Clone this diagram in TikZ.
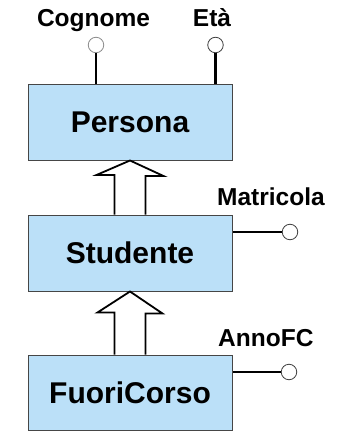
\documentclass[tikz,border=0pt]{standalone}
\usepackage{fontspec}
\setmainfont{Liberation Sans}
\usetikzlibrary{calc}
\definecolor{entfill}{RGB}{187,224,248}
\definecolor{entline}{RGB}{70,70,70}
\tikzset{
  entity/.style={draw=entline, line width=1pt, fill=entfill, minimum width=204pt,
    inner sep=0pt, font=\fontsize{30}{36}\selectfont\bfseries},
  attrlabel/.style={inner sep=0pt, font=\fontsize{24.5}{28}\selectfont\bfseries},
  attrcirc/.style={circle, draw=black!75, line width=0.8pt, fill=white, minimum size=15.5pt, inner sep=0pt},
  attrline/.style={line width=2.6pt, black},
  isa/.style={draw=black, line width=1.8pt, fill=white, line join=miter}
}
\begin{document}
\begin{tikzpicture}[x=1pt,y=1pt]
\useasboundingbox (0,0) rectangle (346,-431);
% entities
\node[entity, minimum height=76pt] (persona) at (130,-122) {\raisebox{-2pt}{Persona}};
\node[entity, minimum height=76pt] (studente) at (130,-253) {\raisebox{-1.5pt}{Studente}};
\node[entity, minimum height=75pt] (fuori) at (130,-392.5) {\raisebox{-2pt}{FuoriCorso}};
% attributes of Persona
\node[attrcirc, draw=black!45] (cogc) at (96,-45) {};
\node[attrcirc] (etac) at (215.5,-45) {};
\draw[attrline] (cogc.south) -- (cogc.south |- persona.north);
\draw[attrline] (etac.south) -- (etac.south |- persona.north);
\node[attrlabel, anchor=base] (cogl) at (93.5,-27) {Cognome};
\node[attrlabel, anchor=base] (etal) at (212,-27) {Età};
% attribute of Studente
\node[attrcirc] (matc) at (290,-232) {};
\draw[attrline] (matc.west) -- (matc.west -| studente.east);
\node[attrlabel, anchor=base west] (matl) at (217,-205) {Matricola};
% attribute of FuoriCorso
\node[attrcirc] (annoc) at (289,-372) {};
\draw[attrline] (annoc.west) -- (annoc.west -| fuori.east);
\node[attrlabel, anchor=base west] (annol) at (218,-346) {AnnoFC};
% ISA arrows
\draw[isa] ($(studente.north)+(-15.5,0)$) -- ++(0,39.5) -- ++(-18,0)
  -- (persona.south) -- ++(33.5,-15.5) -- ++(-18,0) -- ($(studente.north)+(15.5,0)$);
\draw[isa] ($(fuori.north)+(-15.5,0)$) -- ++(0,42) -- ++(-17,0)
  -- (studente.south) -- ++(32.5,-22) -- ++(-17,0) -- ($(fuori.north)+(15.5,0)$);
\end{tikzpicture}
\end{document}
